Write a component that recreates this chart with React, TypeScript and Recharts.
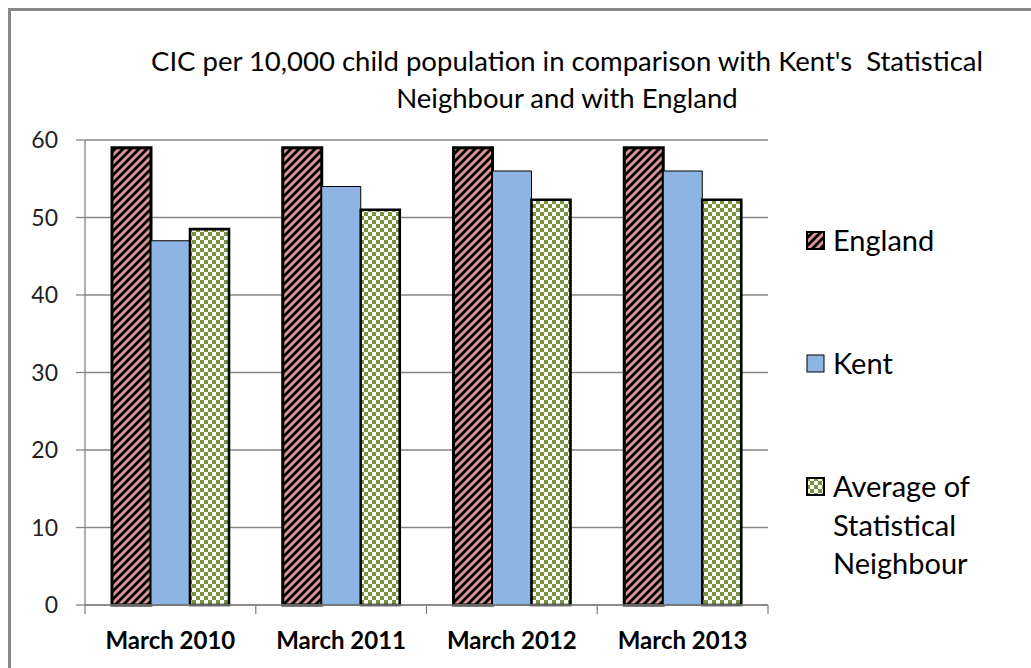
import React from 'react';
import { BarChart, Bar, XAxis, YAxis, CartesianGrid, Legend } from 'recharts';

const categories = ['March 2010', 'March 2011', 'March 2012', 'March 2013'];
const england = [59, 59, 59, 59];
const kent = [47, 54, 56, 56];
const statNeighbour = [48.5, 51, 52.3, 52.3];
const yTicks = [0, 10, 20, 30, 40, 50, 60];
const titleLines = ["CIC per 10,000 child population in comparison with Kent's\u00a0 Statistical", 'Neighbour and with England'];
const legendLabels = [['England'], ['Kent'], ['Average of', 'Statistical', 'Neighbour']];

const data = categories.map((c, i) => ({
  name: c,
  england: england[i],
  kent: kent[i],
  stat: statNeighbour[i],
}));

const FONT = 'Lato, "Liberation Sans", sans-serif';
const GRID = '#868686';

function Defs({ p }: { p: string }) {
  return (
    <defs>
      <pattern id={p + 'stripe'} width="8" height="8" patternUnits="userSpaceOnUse">
        <rect width="8" height="8" fill="#D99694" />
        <path d="M-2,2 L2,-2 M0,8 L8,0 M6,10 L10,6" stroke="#000" strokeWidth="2.8" />
      </pattern>
      <pattern id={p + 'check'} width="8" height="8" patternUnits="userSpaceOnUse">
        <rect width="8" height="8" fill="#fff" />
        <rect x="0" y="0" width="4" height="4" fill="#77933C" />
        <rect x="4" y="4" width="4" height="4" fill="#77933C" />
      </pattern>
    </defs>
  );
}

const swatches = [
  { fill: 'url(#lgstripe)', stroke: '#000', sw: 2 },
  { fill: '#8EB4E3', stroke: '#000', sw: 1 },
  { fill: 'url(#lgcheck)', stroke: '#000', sw: 2 },
];
const itemTops = [0, 123, 246];

function LegendContent() {
  return (
    <div style={{ position: 'relative', width: 220, height: 370, fontFamily: FONT, fontSize: 29, color: '#000' }}>
      <svg width="0" height="0" style={{ position: 'absolute' }}>
        <Defs p="lg" />
      </svg>
      {legendLabels.map((lines, i) => (
        <div key={i} style={{ position: 'absolute', left: 0, top: itemTops[i], display: 'flex' }}>
          <svg width="20" height="20" style={{ marginTop: 10, marginRight: 7 }}>
            <rect x="1" y="1" width="17" height="17" fill={swatches[i].fill} stroke={swatches[i].stroke} strokeWidth={swatches[i].sw} />
          </svg>
          <div style={{ lineHeight: '38.5px' }}>
            {lines.map((l, j) => (
              <div key={j}>{l}</div>
            ))}
          </div>
        </div>
      ))}
    </div>
  );
}

function XTick(props: any) {
  const { x, y, payload, index, visibleTicksCount } = props;
  const half = payload && typeof payload.offset === 'number' ? payload.offset : 0;
  const isLast = index === (visibleTicksCount ?? categories.length) - 1;
  return (
    <g>
      {half > 0 && <line x1={x - half} x2={x - half} y1={y - 27} y2={y - 18} stroke={GRID} strokeWidth={1.3} />}
      {half > 0 && isLast && <line x1={x + half} x2={x + half} y1={y - 27} y2={y - 18} stroke={GRID} strokeWidth={1.3} />}
      <text x={x} y={y} dy="0.71em" textAnchor="middle" fontFamily={FONT} fontSize={24} fontWeight={700} fill="#000">
        {payload.value}
      </text>
    </g>
  );
}

export default function App() {
  return (
    <div style={{ position: 'absolute', left: 0, top: 0, width: 1031, height: 668, overflow: 'hidden', background: '#fff' }}>
      <div style={{ position: 'absolute', left: 8, top: 8, width: 1060, height: 700, border: '3px solid #888' }} />
      <div
        style={{
          position: 'absolute',
          left: 67,
          width: 1000,
          top: 42,
          textAlign: 'center',
          fontFamily: FONT,
          fontSize: 27.5,
          lineHeight: '37px',
          color: '#000',
        }}
      >
        {titleLines.map((t, i) => (
          <div key={i}>{t}</div>
        ))}
      </div>
      <div style={{ position: 'absolute', left: 0, top: 0 }}>
        <BarChart
          width={1031}
          height={668}
          data={data}
          margin={{ top: 140, right: 263, bottom: 23, left: 25 }}
          barGap={0}
          barSize={39}
        >
          <Defs p="ch" />
          <CartesianGrid vertical={false} stroke={GRID} strokeWidth={1.3} />
          <XAxis
            dataKey="name"
            height={40}
            axisLine={{ stroke: GRID, strokeWidth: 1.3 }}
            tickLine={false}
            tickSize={0}
            tickMargin={27}
            tick={<XTick />}
            interval={0}
          />
          <YAxis
            width={60}
            domain={[0, 60]}
            ticks={yTicks}
            interval={0}
            axisLine={{ stroke: GRID, strokeWidth: 1.3 }}
            tickLine={{ stroke: GRID, strokeWidth: 1.3 }}
            tickSize={9}
            tickMargin={18}
            tick={{ fontFamily: FONT, fontSize: 23, fill: '#222' }}
          />
          <Legend
            layout="horizontal"
            align="center"
            verticalAlign="middle"
            content={<LegendContent />}
            wrapperStyle={{ left: 806, top: 221, width: 225, height: 370 }}
          />
          <Bar dataKey="england" name="England" fill="url(#chstripe)" stroke="#000" strokeWidth={3} isAnimationActive={false} />
          <Bar dataKey="kent" name="Kent" fill="#8EB4E3" stroke="#000" strokeWidth={1} isAnimationActive={false} />
          <Bar dataKey="stat" name="Average of Statistical Neighbour" fill="url(#chcheck)" stroke="#000" strokeWidth={2.6} isAnimationActive={false} />
        </BarChart>
      </div>
    </div>
  );
}
